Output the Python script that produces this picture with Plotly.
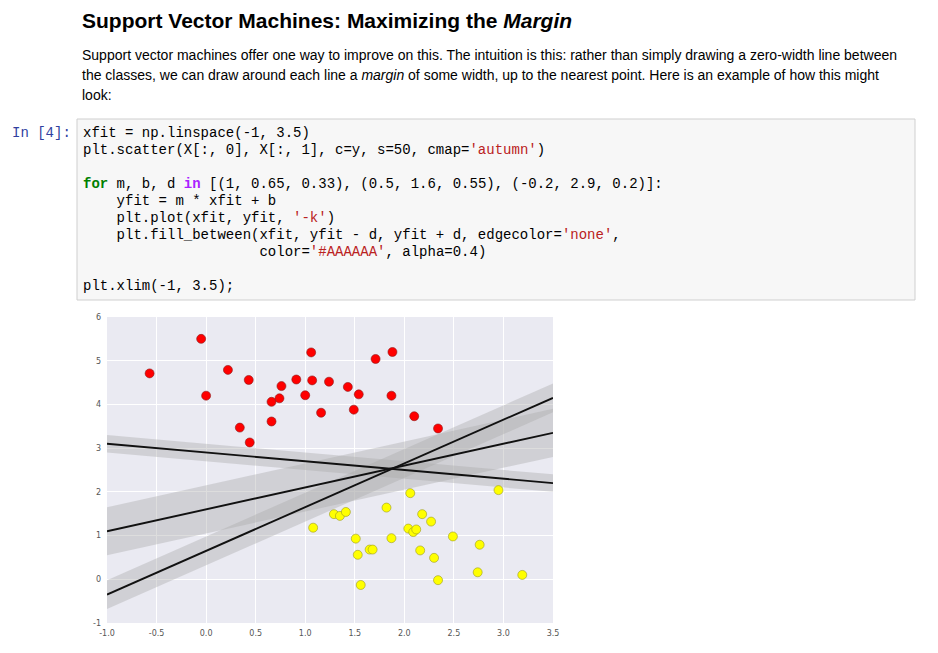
import re
import numpy as np
import plotly.graph_objects as go

red_x = [-0.57,-0.05,0.0,0.22,0.43,0.34,0.44,0.66,0.66,0.74,0.76,0.91,1.0,1.06,1.07,1.16,1.24,1.43,1.49,1.54,1.71,1.88,1.87,2.1,2.34]
red_y = [4.71,5.5,4.2,4.79,4.56,3.47,3.13,4.06,3.61,4.14,4.42,4.57,4.21,5.19,4.55,3.81,4.52,4.4,3.88,4.23,5.04,5.2,4.2,3.73,3.45]
yel_x = [1.08,1.29,1.35,1.41,1.51,1.53,1.56,1.65,1.68,1.82,1.87,2.04,2.06,2.09,2.12,2.16,2.18,2.27,2.3,2.34,2.49,2.74,2.76,2.95,3.19]
yel_y = [1.18,1.49,1.45,1.54,0.93,0.56,-0.13,0.68,0.68,1.64,0.94,1.16,1.97,1.08,1.14,0.66,1.49,1.32,0.49,-0.02,0.98,0.16,0.79,2.04,0.1]
lines = [(1, 0.65, 0.33), (0.5, 1.6, 0.55), (-0.2, 2.9, 0.2)]
xticks = [-1.0,-0.5,0.0,0.5,1.0,1.5,2.0,2.5,3.0,3.5]
yticks = [-1,0,1,2,3,4,5,6]

OFF = 8
W, H = 920, 635
def px(x): return (x - OFF) / W
def py(y): return 1 - (y - OFF) / H

fig = go.Figure()
xfit = np.linspace(-1, 3.5, 50)
for m, b, d in lines:
    yfit = m * xfit + b
    fig.add_trace(go.Scatter(x=list(xfit) + list(xfit[::-1]), y=list(yfit - d) + list((yfit + d)[::-1]),
                             fill='toself', fillcolor='rgba(170,170,170,0.4)', line=dict(width=0),
                             mode='lines', hoverinfo='skip', showlegend=False))
for m, b, d in lines:
    yfit = m * xfit + b
    fig.add_trace(go.Scatter(x=xfit, y=yfit, mode='lines', line=dict(color='#111', width=1.9), showlegend=False))
fig.add_trace(go.Scatter(x=red_x, y=red_y, mode='markers', showlegend=False,
                         marker=dict(color='#ff0000', size=9, line=dict(color='#8a1a1a', width=0.6))))
fig.add_trace(go.Scatter(x=yel_x, y=yel_y, mode='markers', showlegend=False,
                         marker=dict(color='#ffff00', size=9, line=dict(color='#9a9a20', width=0.6))))

ax = dict(showgrid=True, gridcolor='white', gridwidth=1, zeroline=False, showline=False, automargin=False,
          tickfont=dict(family='DejaVu Sans', size=8, color='#555'), ticks='')
fig.update_xaxes(**ax, range=[-1, 3.5], tickvals=xticks, ticktext=[f"{v:.1f}" for v in xticks],
                 domain=[px(107), px(553)], ticklabelstandoff=4)
fig.update_yaxes(**ax, range=[-1, 6], tickvals=yticks, ticktext=[str(v) for v in yticks],
                 domain=[py(623), py(317)], ticklabelstandoff=5)

ann = []
def txt(x, y, s, size, family, color='#000', xanchor='left'):
    ann.append(dict(x=px(x), y=py(y), xref='paper', yref='paper', text=s, showarrow=False,
                    xanchor=xanchor, yanchor='middle', font=dict(size=size, family=family, color=color)))

txt(80, 20, "<b>Support Vector Machines: Maximizing the <i>Margin</i></b>", 21, 'Liberation Sans')
para = ["Support vector machines offer one way to improve on this. The intuition is this: rather than simply drawing a zero-width line between",
        "the classes, we can draw around each line a <i>margin</i> of some width, up to the nearest point. Here is an example of how this might",
        "look:"]
for i, s in enumerate(para):
    txt(80, 55 + 20 * i, s, 14, 'Liberation Sans')

mono = 'Liberation Mono'
R = '#BA2121'
def st(s): return f"<span style='color:{R}'>{s}</span>"
def nb(s):
    parts = re.split(r'(<[^>]*>)', s)
    return ''.join(p if p.startswith('<') else p.replace(' ', '&nbsp;') for p in parts)
code = [
    (133, "xfit = np.linspace(-1, 3.5)"),
    (150, "plt.scatter(X[:, 0], X[:, 1], c=y, s=50, cmap=" + st("'autumn'") + ")"),
    (184, "<span style='color:#008000'><b>for</b></span> m, b, d <span style='color:#AA22FF'><b>in</b></span> [(1, 0.65, 0.33), (0.5, 1.6, 0.55), (-0.2, 2.9, 0.2)]:"),
    (201, "    yfit = m * xfit + b"),
    (218, "    plt.plot(xfit, yfit, " + st("'-k'") + ")"),
    (235, "    plt.fill_between(xfit, yfit - d, yfit + d, edgecolor=" + st("'none'") + ","),
    (252, "                     color=" + st("'#AAAAAA'") + ", alpha=0.4)"),
    (286, "plt.xlim(-1, 3.5);"),
]
for y, s in code:
    txt(81, y, nb(s), 14, mono)
txt(10, 133, "In&nbsp;[4]:", 14, mono, color='#303F9F')

fig.update_layout(width=W, height=H, margin=dict(l=0, r=0, t=0, b=0), paper_bgcolor='white',
                  plot_bgcolor='#EAEAF2', annotations=ann,
                  shapes=[dict(type='rect', xref='paper', yref='paper', x0=px(77), x1=px(915), y0=py(300), y1=py(119),
                               fillcolor='#f7f7f7', line=dict(color='#cfcfcf', width=1), layer='below')])
fig.write_html("out.html")
